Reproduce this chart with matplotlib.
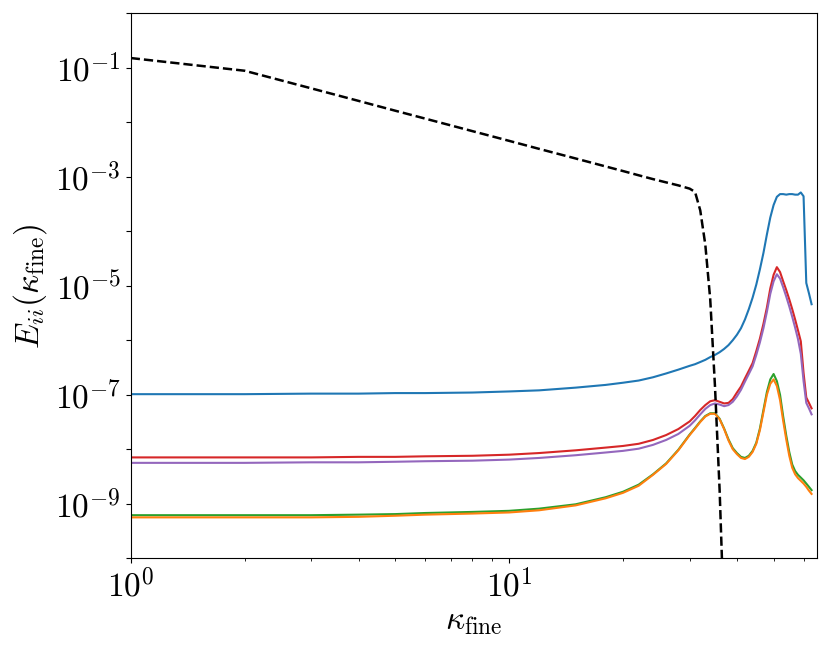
import numpy as np
import matplotlib
matplotlib.use("Agg")
import matplotlib.pyplot as plt
from matplotlib.ticker import FuncFormatter, FixedLocator, NullFormatter

plt.rcParams['mathtext.fontset'] = 'cm'
plt.rcParams['font.family'] = 'serif'
plt.rcParams['font.serif'] = ['cmr10', 'DejaVu Serif']
plt.rcParams['axes.unicode_minus'] = False

# wavenumbers (sampled)
kappa = [1, 2, 3, 4, 5, 6, 8, 10, 12, 15, 18, 20, 22, 24, 26, 28, 30,
         31, 32, 33, 34, 35, 36, 37, 38, 39, 40, 41, 42, 43, 44, 45, 46, 47,
         48, 49, 50, 51, 52, 53, 54, 55, 56, 57, 58, 59, 60, 61, 62, 63]

# log10 values
blue_log = [-6.99, -6.99, -6.98, -6.98, -6.97, -6.97, -6.96, -6.94, -6.92, -6.87, -6.82, -6.78, -6.74,
            -6.68, -6.61, -6.54, -6.47,
            -6.44, -6.40, -6.36, -6.31, -6.27, -6.22, -6.16, -6.09, -6.00, -5.90, -5.78, -5.62, -5.43,
            -5.22, -4.98, -4.70, -4.40, -4.06, -3.75, -3.52, -3.37, -3.32, -3.32, -3.33, -3.32, -3.32,
            -3.33, -3.33, -3.29, -3.36, -4.95, -5.14, -5.34]

orange_log = [-9.25, -9.25, -9.25, -9.24, -9.22, -9.20, -9.18, -9.16, -9.12, -9.03, -8.90, -8.80, -8.67,
              -8.47, -8.27, -8.02, -7.74,
              -7.62, -7.50, -7.40, -7.35, -7.35, -7.45, -7.63, -7.84, -8.00, -8.09, -8.16, -8.18, -8.14,
              -8.05, -7.90, -7.65, -7.32, -7.00, -6.80, -6.72, -6.84, -7.10, -7.48, -7.82, -8.12, -8.34,
              -8.46, -8.53, -8.58, -8.63, -8.69, -8.76, -8.82]

green_log = [-9.21, -9.21, -9.21, -9.20, -9.19, -9.17, -9.15, -9.13, -9.09, -9.01, -8.88, -8.78, -8.65,
             -8.46, -8.26, -8.01, -7.73,
             -7.61, -7.49, -7.39, -7.34, -7.34, -7.44, -7.62, -7.82, -7.98, -8.07, -8.14, -8.16, -8.12,
             -8.03, -7.88, -7.62, -7.28, -6.95, -6.72, -6.62, -6.75, -7.00, -7.40, -7.75, -8.05, -8.28,
             -8.40, -8.47, -8.52, -8.57, -8.63, -8.69, -8.75]

red_log = [-8.15, -8.15, -8.15, -8.14, -8.14, -8.13, -8.12, -8.10, -8.07, -8.02, -7.97, -7.94, -7.90,
           -7.83, -7.74, -7.63, -7.49,
           -7.39, -7.28, -7.19, -7.12, -7.10, -7.13, -7.16, -7.15, -7.08, -6.96, -6.85, -6.70, -6.56,
           -6.42, -6.20, -5.97, -5.70, -5.40, -5.05, -4.80, -4.66, -4.75, -4.92, -5.08, -5.25, -5.43,
           -5.62, -5.82, -6.02, -6.60, -7.05, -7.15, -7.25]

purple_log = [-8.25, -8.25, -8.24, -8.24, -8.23, -8.22, -8.21, -8.19, -8.16, -8.11, -8.06, -8.03, -7.99,
              -7.92, -7.83, -7.72, -7.57,
              -7.47, -7.36, -7.26, -7.19, -7.16, -7.18, -7.21, -7.19, -7.13, -7.03, -6.91, -6.76, -6.62,
              -6.48, -6.27, -6.04, -5.78, -5.48, -5.15, -4.92, -4.79, -4.87, -5.03, -5.20, -5.38, -5.57,
              -5.77, -5.98, -6.25, -6.75, -7.15, -7.25, -7.36]

# reference spectrum (black dashed)
kappa_ref = [1, 2, 3, 4, 5, 6, 8, 10, 12, 15, 18, 20, 22, 24, 26, 28, 30, 31, 32, 33, 34, 35, 36, 37]
ref_log = [-0.824, -1.057, -1.38, -1.61, -1.79, -1.935, -2.165, -2.343, -2.49, -2.667, -2.813, -2.897,
           -2.975, -3.045, -3.105, -3.16, -3.22, -3.28, -3.62, -4.25, -5.25, -6.85, -8.75, -11.2]

y_decades = [-10, -9, -8, -7, -6, -5, -4, -3, -2, -1, 0]

fig = plt.figure(figsize=(8.3, 6.56), dpi=100)
ax = fig.add_axes([0.1575, 0.149, 0.8265, 0.831])

series = [(blue_log, 'C0'), (green_log, 'C2'), (orange_log, 'C1'),
          (red_log, 'C3'), (purple_log, 'C4')]
for vals, c in series:
    ax.loglog(kappa, 10.0 ** np.array(vals), color=c, lw=1.5)
ax.loglog(kappa_ref, 10.0 ** np.array(ref_log), 'k--', lw=1.8)

ax.set_xlim(1, 65)
ax.set_ylim(1e-10, 1)


def exp_label(v, pos):
    e = int(round(np.log10(v)))
    return r'$10^{%d}$' % e


def odd_exp_label(v, pos):
    e = int(round(np.log10(v)))
    if e % 2 == 0:
        return ''
    return r'$10^{%d}$' % e


ax.yaxis.set_major_locator(FixedLocator([10.0 ** e for e in y_decades]))
ax.yaxis.set_minor_locator(FixedLocator([]))
ax.yaxis.set_major_formatter(FuncFormatter(odd_exp_label))
ax.xaxis.set_major_formatter(FuncFormatter(exp_label))
ax.xaxis.set_minor_formatter(NullFormatter())

ax.set_xlabel(r'$\kappa_{\rm fine}$', fontsize=24)
ax.set_ylabel(r'$E_{ii}(\kappa_{\rm fine})$', fontsize=24)
ax.tick_params(labelsize=24)

fig.savefig('out.png', dpi=100)
